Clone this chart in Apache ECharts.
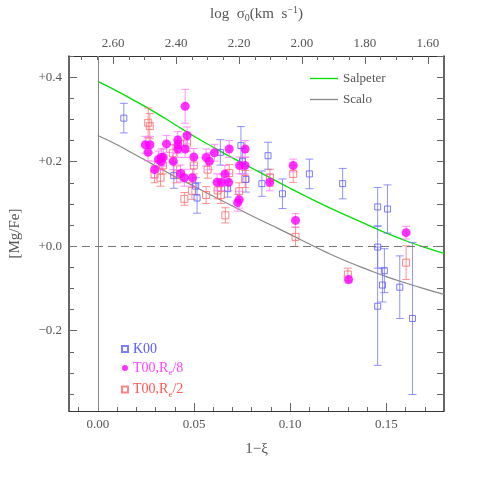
<!DOCTYPE html>
<html>
<head>
<meta charset="utf-8">
<script src="https://cdn.jsdelivr.net/npm/echarts@6/dist/echarts.min.js"></script>
<style>
  html, body { margin: 0; padding: 0; background: #fff; }
  #chart { width: 485px; height: 485px; }
</style>
</head>
<body>
<div id="chart"></div>
<script>
// model curves (1-xi vs [Mg/Fe])
const curveX = [0, 0.01, 0.02, 0.03, 0.04, 0.05, 0.06, 0.07, 0.08, 0.09, 0.10, 0.11, 0.12, 0.13, 0.14, 0.15, 0.16, 0.17, 0.18];
const salpeterY = [0.39, 0.367, 0.342, 0.316, 0.288, 0.26, 0.234, 0.209, 0.185, 0.161, 0.137, 0.114, 0.092, 0.071, 0.051, 0.031, 0.013, -0.003, -0.017];
const scaloY = [0.262, 0.24, 0.215, 0.19, 0.165, 0.142, 0.118, 0.095, 0.072, 0.05, 0.028, 0.005, -0.017, -0.037, -0.055, -0.072, -0.087, -0.101, -0.114];

// observations: [1-xi, [Mg/Fe], error]
const k00 = [
  [0.0135, 0.303, 0.035], [0.0395, 0.167, 0.03], [0.0509, 0.142, 0.02], [0.0516, 0.114, 0.036],
  [0.0637, 0.222, 0.03], [0.0675, 0.136, 0.02], [0.0744, 0.238, 0.045], [0.0752, 0.201, 0.03],
  [0.077, 0.158, 0.03], [0.0853, 0.148, 0.03], [0.0885, 0.214, 0.032], [0.096, 0.124, 0.035],
  [0.110, 0.171, 0.035], [0.1273, 0.148, 0.036], [0.1455, 0.093, 0.046], [0.1455, -0.002, 0.05],
  [0.1455, -0.142, 0.14], [0.1506, 0.088, 0.057], [0.149, -0.058, 0.052], [0.148, -0.092, 0.04],
  [0.157, -0.097, 0.074], [0.1636, -0.171, 0.18]
];
const t00Re8 = [
  [0.0247, 0.240, 0.02], [0.0271, 0.240, 0.02], [0.0261, 0.222, 0.02], [0.0295, 0.181, 0.02],
  [0.0315, 0.205, 0.02], [0.033, 0.210, 0.02], [0.034, 0.210, 0.02], [0.033, 0.200, 0.02],
  [0.0357, 0.242, 0.02], [0.0392, 0.201, 0.02], [0.0416, 0.251, 0.02], [0.0416, 0.240, 0.02],
  [0.0416, 0.230, 0.02], [0.043, 0.172, 0.02], [0.0454, 0.331, 0.04], [0.0464, 0.262, 0.02],
  [0.0454, 0.230, 0.02], [0.045, 0.162, 0.02], [0.0492, 0.162, 0.02], [0.0499, 0.211, 0.02],
  [0.0563, 0.210, 0.02], [0.058, 0.201, 0.02], [0.0606, 0.221, 0.02], [0.062, 0.151, 0.02],
  [0.0644, 0.151, 0.02], [0.0661, 0.171, 0.02], [0.068, 0.151, 0.02], [0.0683, 0.230, 0.02],
  [0.0727, 0.103, 0.02], [0.0735, 0.110, 0.02], [0.0737, 0.191, 0.02], [0.0765, 0.191, 0.02],
  [0.0766, 0.230, 0.02], [0.0894, 0.151, 0.02], [0.1016, 0.191, 0.015], [0.1028, 0.061, 0.016],
  [0.1304, -0.079, 0.008], [0.1603, 0.032, 0.015]
];
const t00Re2 = [
  [0.0262, 0.292, 0.035], [0.027, 0.284, 0.03], [0.0295, 0.170, 0.02], [0.0326, 0.162, 0.02],
  [0.0338, 0.191, 0.02], [0.039, 0.220, 0.02], [0.041, 0.170, 0.02], [0.045, 0.112, 0.015],
  [0.0464, 0.245, 0.02], [0.0489, 0.131, 0.02], [0.0499, 0.191, 0.02], [0.0571, 0.181, 0.02],
  [0.0563, 0.121, 0.02], [0.0623, 0.132, 0.02], [0.064, 0.121, 0.02], [0.0663, 0.073, 0.018],
  [0.0683, 0.173, 0.02], [0.0735, 0.130, 0.02], [0.0766, 0.159, 0.02], [0.0895, 0.162, 0.02],
  [0.1016, 0.171, 0.02], [0.1028, 0.022, 0.023], [0.130, -0.067, 0.015], [0.1603, -0.039, 0.04]
];

// tick positions
const xMajor = [0, 0.05, 0.10, 0.15];
const xMinor = [];
for (let i = -1; i <= 18; i++) xMinor.push(i / 100);
const sigmaMajor = [1.6, 1.8, 2.0, 2.2, 2.4, 2.6];
const sigmaMinor = [];
for (let i = 31; i <= 54; i++) sigmaMinor.push(i * 0.05);
const yMajor = [-0.2, 0, 0.2, 0.4];
const yMinor = [];
for (let i = -7; i <= 9; i++) yMinor.push(i * 0.05);

const blue = "#5b5bff", blueBar = "rgba(110,110,255,0.75)";
const mag = "#ff00ff", magBar = "rgba(255,110,255,0.75)";
const sal = "#ff6666", salBar = "rgba(255,110,110,0.75)";
const font = "Liberation Serif";

function errBar(color) {
  return function (params, api) {
    const x = api.value(0), y = api.value(1), e = api.value(2);
    const hi = api.coord([x, y + e]);
    const lo = api.coord([x, y - e]);
    const w = 4;
    const st = { stroke: color, lineWidth: 1 };
    return {
      type: "group",
      children: [
        { type: "line", shape: { x1: hi[0], y1: hi[1], x2: lo[0], y2: lo[1] }, style: st },
        { type: "line", shape: { x1: hi[0] - w, y1: hi[1], x2: hi[0] + w, y2: hi[1] }, style: st },
        { type: "line", shape: { x1: lo[0] - w, y1: lo[1], x2: lo[0] + w, y2: lo[1] }, style: st }
      ]
    };
  };
}

const chart = echarts.init(document.getElementById("chart"), null, { renderer: "canvas" });

const axColor = "#333";
const tickColor = "#666";

chart.setOption({
  animation: false,
  backgroundColor: "#fff",
  grid: { left: 67, right: 41, top: 56, bottom: 74 },
  legend: [
    {
      data: ["Salpeter", "Scalo"],
      orient: "vertical",
      left: 305, top: 67,
      icon: "rect",
      itemWidth: 28, itemHeight: 1.3, itemGap: 8,
      textStyle: { fontFamily: font, fontSize: 13, color: "#555" }
    },
    {
      data: [
        { name: "K00", textStyle: { color: blue } },
        { name: "T00,Re/8", textStyle: { color: "#ff44ff" } },
        { name: "T00,Re/2", textStyle: { color: "#ff5555" } }
      ],
      orient: "vertical",
      left: 116, top: 337,
      itemWidth: 6, itemHeight: 6, itemGap: 5,
      textStyle: {
        fontFamily: font, fontSize: 14,
        rich: { sub: { fontFamily: font, fontSize: 9, verticalAlign: "bottom", padding: [10, 0, 0, 0] } }
      },
      formatter: function (name) {
        if (name === "T00,Re/8") return "T00,R{sub|e}/8";
        if (name === "T00,Re/2") return "T00,R{sub|e}/2";
        return name;
      }
    }
  ],
  xAxis: [
    {
      type: "value", position: "bottom", min: -0.015, max: 0.18,
      name: "1\u2212\u03be", nameLocation: "middle", nameGap: 31,
      nameTextStyle: { fontFamily: font, fontSize: 15, color: "#555" },
      axisLine: { show: true, onZero: false, lineStyle: { color: axColor, width: 1 } },
      axisTick: { show: true, inside: true, length: 8, customValues: xMajor, lineStyle: { color: tickColor } },
      axisLabel: { show: true, customValues: xMajor, margin: 7, formatter: v => v.toFixed(2),
        fontFamily: font, fontSize: 13, color: "#555" },
      splitLine: { show: false }
    },
    {
      type: "value", position: "top", min: 1.549, max: 2.74, inverse: true,
      name: "log  \u03c3{sub|0}(km  s{sup|\u22121})", nameLocation: "middle", nameGap: 33,
      nameTextStyle: { fontFamily: font, fontSize: 15, color: "#555",
        rich: {
          sub: { fontFamily: font, fontSize: 10, color: "#555", verticalAlign: "bottom", padding: [8, 0, 0, 0] },
          sup: { fontFamily: font, fontSize: 10, color: "#555", verticalAlign: "top", padding: [0, 0, 6, 0] }
        } },
      axisLine: { show: true, onZero: false, lineStyle: { color: axColor, width: 1 } },
      axisTick: { show: true, inside: true, length: 8, customValues: sigmaMajor, lineStyle: { color: tickColor } },
      axisLabel: { show: true, customValues: sigmaMajor, margin: 6, formatter: v => v.toFixed(2),
        fontFamily: font, fontSize: 13, color: "#555" },
      splitLine: { show: false }
    },
    {
      type: "value", position: "bottom", min: -0.015, max: 0.18,
      axisLine: { show: false, onZero: false },
      axisTick: { show: true, inside: true, length: 4, customValues: xMinor, lineStyle: { color: tickColor } },
      axisLabel: { show: false },
      splitLine: { show: false }
    },
    {
      type: "value", position: "top", min: 1.549, max: 2.74, inverse: true,
      axisLine: { show: false, onZero: false },
      axisTick: { show: true, inside: true, length: 4, customValues: sigmaMinor, lineStyle: { color: tickColor } },
      axisLabel: { show: false },
      splitLine: { show: false }
    }
  ],
  yAxis: [
    {
      type: "value", position: "left", min: -0.39, max: 0.45,
      name: "[Mg/Fe]", nameLocation: "middle", nameGap: 46,
      nameTextStyle: { fontFamily: font, fontSize: 15, color: "#555" },
      axisLine: { show: true, onZero: false, lineStyle: { color: axColor, width: 1.5 } },
      axisTick: { show: true, inside: true, length: 8, customValues: yMajor, lineStyle: { color: tickColor } },
      axisLabel: { show: true, customValues: yMajor, margin: 7,
        formatter: v => (v < 0 ? "\u2212" : "+") + Math.abs(v).toFixed(1),
        fontFamily: font, fontSize: 13, color: "#555" },
      splitLine: { show: false }
    },
    {
      type: "value", position: "left", min: -0.39, max: 0.45,
      axisLine: { show: false, onZero: false },
      axisTick: { show: true, inside: true, length: 5, customValues: yMinor, lineStyle: { color: tickColor } },
      axisLabel: { show: false },
      splitLine: { show: false }
    },
    {
      type: "value", position: "right", min: -0.39, max: 0.45,
      axisLine: { show: true, onZero: false, lineStyle: { color: axColor, width: 1.5 } },
      axisTick: { show: true, inside: true, length: 7, customValues: yMinor, lineStyle: { color: tickColor } },
      axisLabel: { show: false },
      splitLine: { show: false }
    }
  ],
  series: [
    {
      name: "Salpeter", type: "line", smooth: true, symbol: "none",
      lineStyle: { color: "#00e000", width: 1.3 }, itemStyle: { color: "#00e000" },
      data: curveX.map((x, i) => [x, salpeterY[i]]),
      z: 3
    },
    {
      name: "Scalo", type: "line", smooth: true, symbol: "none",
      lineStyle: { color: "#888", width: 1.2 }, itemStyle: { color: "#888" },
      data: curveX.map((x, i) => [x, scaloY[i]]),
      z: 3,
      markLine: {
        silent: true, symbol: "none", label: { show: false },
        data: [
          { xAxis: 0, lineStyle: { type: "solid", color: "#888", width: 1 } },
          { yAxis: 0, lineStyle: { type: [8, 5], color: "#777", width: 1 } }
        ]
      }
    },
    { type: "custom", renderItem: errBar(blueBar), data: k00, z: 4 },
    { type: "custom", renderItem: errBar(salBar), data: t00Re2, z: 4 },
    { type: "custom", renderItem: errBar(magBar), data: t00Re8, z: 4 },
    {
      name: "K00", type: "scatter", symbol: "rect", symbolSize: 6,
      itemStyle: { color: "rgba(255,255,255,0)", borderColor: blue, borderWidth: 1 },
      data: k00.map(d => [d[0], d[1]]), z: 6
    },
    {
      name: "T00,Re/2", type: "scatter", symbol: "rect", symbolSize: 7,
      itemStyle: { color: "rgba(255,255,255,0)", borderColor: sal, borderWidth: 1 },
      data: t00Re2.map(d => [d[0], d[1]]), z: 5
    },
    {
      name: "T00,Re/8", type: "scatter", symbol: "circle", symbolSize: 9,
      itemStyle: { color: mag },
      data: t00Re8.map(d => [d[0], d[1]]), z: 7
    }
  ]
});
</script>
</body>
</html>
